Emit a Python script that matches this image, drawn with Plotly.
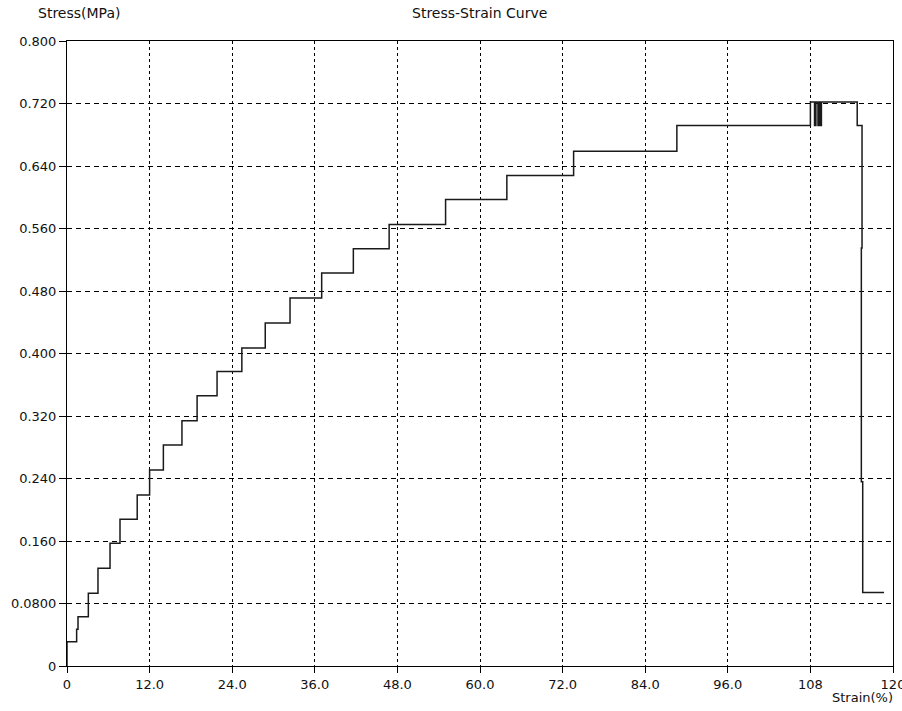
import plotly.graph_objects as go

# Step-curve data (start of each step: strain %, stress MPa)
strain = [0, 0, 1.4, 1.6, 3.1, 4.5, 6.25, 7.7, 10.2, 12.0, 14.0, 16.7, 18.9, 21.8,
          25.4, 28.8, 32.4, 37.0, 41.6, 46.8, 55.0, 63.9, 73.6, 88.6,
          108.0, 108.6, 108.8, 109.1, 109.3, 109.4, 109.6, 114.8, 115.5, 115.4, 115.6, 118.7]
stress = [0, 0.031, 0.047, 0.063, 0.093, 0.125, 0.157, 0.188, 0.219, 0.251, 0.283, 0.314, 0.346, 0.377,
          0.407, 0.439, 0.471, 0.503, 0.534, 0.565, 0.597, 0.628, 0.659, 0.692,
          0.722, 0.692, 0.722, 0.692, 0.722, 0.692, 0.722, 0.692, 0.535, 0.236, 0.094, 0.094]

x_ticks = [0, 12, 24, 36, 48, 60, 72, 84, 96, 108, 120]
x_tick_labels = ["0", "12.0", "24.0", "36.0", "48.0", "60.0", "72.0", "84.0", "96.0", "108", "120"]
y_ticks = [0, 0.08, 0.16, 0.24, 0.32, 0.40, 0.48, 0.56, 0.64, 0.72, 0.80]
y_tick_labels = ["0", "0.0800", "0.160", "0.240", "0.320", "0.400", "0.480", "0.560", "0.640", "0.720", "0.800"]

font = dict(family="DejaVu Sans, Verdana, sans-serif", size=13, color="#111")
ann_font = dict(family="DejaVu Sans, Verdana, sans-serif", size=14, color="#111")

fig = go.Figure()
fig.add_trace(go.Scatter(x=strain, y=stress, mode="lines", line_shape="hv",
                         line=dict(color="#1a1a1a", width=1.5), showlegend=False))

fig.update_layout(
    width=902, height=711,
    margin=dict(l=67, r=9, t=41, b=45, autoexpand=False),
    paper_bgcolor="white", plot_bgcolor="white",
    font=font,
    xaxis=dict(range=[0, 120], tickvals=x_ticks, ticktext=x_tick_labels, automargin=False,
               ticklabeloverflow="allow",
               showgrid=True, gridcolor="#000", gridwidth=1, griddash="3px,3px",
               showline=True, linecolor="#000", linewidth=1, mirror=True,
               ticks="outside", ticklen=6, tickcolor="#000", zeroline=False),
    yaxis=dict(range=[0, 0.8], tickvals=y_ticks, ticktext=y_tick_labels, automargin=False,
               ticklabeloverflow="allow",
               showgrid=True, gridcolor="#000", gridwidth=1, griddash="5px,4px",
               showline=True, linecolor="#000", linewidth=1, mirror=True,
               ticks="outside", ticklen=7, tickcolor="#000", zeroline=False),
    annotations=[
        dict(text="Stress(MPa)", xref="paper", yref="paper", x=0.0145, y=1.0448,
             xanchor="center", yanchor="middle", showarrow=False, font=ann_font),
        dict(text="Stress-Strain Curve", xref="paper", yref="paper", x=0.4988, y=1.0448,
             xanchor="center", yanchor="middle", showarrow=False, font=ann_font),
        dict(text="Strain(%)", xref="paper", yref="paper", x=1.0024, y=-0.0496,
             xanchor="right", yanchor="middle", showarrow=False, font=font),
    ],
)

fig.write_html("out.html", post_script="document.body.style.margin='0';",
               config={"displayModeBar": False})
